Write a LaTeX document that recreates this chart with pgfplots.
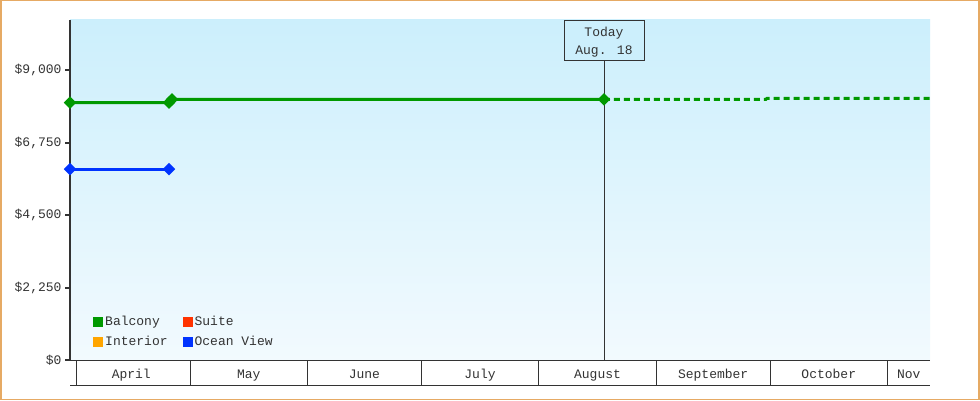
\documentclass[border=0pt]{standalone}
\usepackage{pgfplots}
\pgfplotsset{compat=1.18}
\usepackage{fontspec}
\setmainfont{Liberation Mono}

\definecolor{balcony}{HTML}{009900}
\definecolor{suite}{HTML}{FF3300}
\definecolor{interior}{HTML}{FFA500}
\definecolor{oceanview}{HTML}{0033FF}
\definecolor{bgtop}{HTML}{CCEFFC}
\definecolor{bgbot}{HTML}{F2FAFE}
\definecolor{axisgray}{HTML}{333333}
\definecolor{framecol}{HTML}{E6AA64}

\begin{document}
\begin{tikzpicture}
\useasboundingbox (0,0) rectangle (980pt,400pt);
\fill[white] (0,0) rectangle (980pt,400pt);
\draw[framecol, line width=1.5pt] (0.75pt,0.75pt) rectangle (978.75pt,399.25pt);
\begin{axis}[
    at={(70pt,40pt)}, anchor=south west,
    scale only axis, width=860pt, height=340pt,
    % x is days counted from April 1
    xmin=-1.66, xmax=225.2, ymin=0, ymax=10566,
    axis x line=bottom, axis y line=left,
    x axis line style={-, draw=axisgray, line width=1pt},
    y axis line style={-, draw=axisgray, line width=2.5pt},
    axis background/.style={shade, top color=bgtop, bottom color=bgbot},
    xtick=\empty,
    ytick={0,2250,4500,6750,9000},
    yticklabels={{\$0},{\$2,250},{\$4,500},{\$6,750},{\$9,000}},
    scaled y ticks=false,
    tick align=outside, major tick length=5pt,
    y tick style={draw=axisgray, line width=2pt},
    tick label style={font=\fontsize{13}{15}\selectfont, text=axisgray},
    clip=false,
    legend columns=2,
    legend cell align=left,
    legend image code/.code={\fill[#1, draw=none] (0pt,-5pt) rectangle (10pt,5pt);},
    legend style={at={(rel axis cs:0,0)}, anchor=south west, xshift=20pt, yshift=9pt,
        draw=none, fill=none, font=\fontsize{13}{15}\selectfont, text=axisgray,
        nodes={inner xsep=2pt, inner ysep=1.5pt}, row sep=6pt,
        /tikz/every even column/.append style={column sep=13pt}},
]
% today marker line
\draw[axisgray, line width=0.8pt] (axis cs:139.2,0) -- (axis cs:139.2,10566);

\addlegendimage{fill=balcony}\addlegendentry{Balcony}
\addlegendimage{fill=suite}\addlegendentry{Suite}
\addlegendimage{fill=interior}\addlegendentry{Interior}
\addlegendimage{fill=oceanview}\addlegendentry{Ocean View}

% forecast part
\addplot[forget plot, balcony, line width=3pt, dash pattern=on 6pt off 4pt]
    coordinates {(139.2,8100) (181.9,8100) (182.2,8130) (225.2,8130)};
% past prices
\addplot[forget plot, balcony, line width=3pt, mark=square*, mark size=2.9pt,
    mark options={rotate=45, solid}]
    coordinates {(-1.66,8000) (24.46,8000) (25.25,8100) (139.2,8100)};
\addplot[forget plot, oceanview, line width=3pt, mark=square*, mark size=2.9pt,
    mark options={rotate=45, solid}]
    coordinates {(-1.66,5930) (24.46,5930)};

\node[draw=axisgray, fill=bgtop, line width=0.8pt, anchor=north,
    minimum width=80pt, minimum height=40pt]
    at (axis cs:139.2,10566) {};
\node[anchor=north, align=center, inner sep=0pt, yshift=-7pt,
    font=\fontsize{13}{18}\selectfont, text=axisgray]
    at (axis cs:139.2,10566) {Today\\Aug. 18};

% month boxes under the axis
\pgfplotsinvokeforeach{0,30,61,91,122,153,183,214}{
    \draw[axisgray, line width=1pt] (axis cs:#1,0) -- ++(0pt,-25pt);
}
\draw[axisgray, line width=1pt] (rel axis cs:0,0) ++(0pt,-25pt) -- ++(860pt,0pt);
\node[anchor=base, yshift=-18pt, text=axisgray, font=\fontsize{13}{15}\selectfont] at (axis cs:14.5,0) {April};
\node[anchor=base, yshift=-18pt, text=axisgray, font=\fontsize{13}{15}\selectfont] at (axis cs:45.5,0) {May};
\node[anchor=base, yshift=-18pt, text=axisgray, font=\fontsize{13}{15}\selectfont] at (axis cs:76,0) {June};
\node[anchor=base, yshift=-18pt, text=axisgray, font=\fontsize{13}{15}\selectfont] at (axis cs:106.5,0) {July};
\node[anchor=base, yshift=-18pt, text=axisgray, font=\fontsize{13}{15}\selectfont] at (axis cs:137.5,0) {August};
\node[anchor=base, yshift=-18pt, text=axisgray, font=\fontsize{13}{15}\selectfont] at (axis cs:168,0) {September};
\node[anchor=base, yshift=-18pt, text=axisgray, font=\fontsize{13}{15}\selectfont] at (axis cs:198.5,0) {October};
\node[anchor=base, yshift=-18pt, text=axisgray, font=\fontsize{13}{15}\selectfont] at (axis cs:219.6,0) {Nov};
\end{axis}
\end{tikzpicture}
\end{document}
